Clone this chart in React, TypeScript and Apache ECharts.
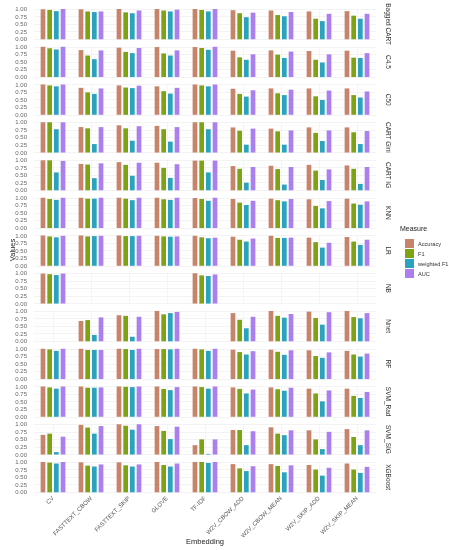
import React, { useEffect, useRef } from "react";
import * as echarts from "echarts";

const embeddings = ["CV", "FASTTEXT_CBOW", "FASTTEXT_SKIP", "GLOVE", "TF-IDF", "W2V_CBOW_ADD", "W2V_CBOW_MEAN", "W2V_SKIP_ADD", "W2V_SKIP_MEAN"];
const classifiers = ["Bagged CART", "C4.5", "C50", "CART Gini", "CART IG", "KNN", "LR", "NB", "Nnet", "RF", "SVM_Rad", "SVM_SIG", "XGBoost"];
const measures = ["Accuracy", "F1", "weighted F1", "AUC"];
const measureColors = ["#C8836B", "#7DA314", "#2BA3BD", "#AB80EE"];

const N = null;
// rows follow `classifiers`, columns follow `embeddings`
const accuracy = [
  [0.99, 0.99, 1.0, 1.0, 1.0, 0.96, 0.95, 0.92, 0.93],
  [1.0, 0.89, 0.97, 0.99, 0.99, 0.87, 0.88, 0.86, 0.87],
  [1.0, 0.89, 0.97, 0.94, 1.0, 0.86, 0.87, 0.87, 0.87],
  [1.0, 0.84, 0.9, 0.88, 1.0, 0.83, 0.79, 0.83, 0.83],
  [0.99, 0.87, 0.93, 0.91, 0.98, 0.8, 0.81, 0.84, 0.82],
  [1.0, 1.0, 1.0, 1.0, 0.99, 0.96, 0.97, 0.95, 0.97],
  [1.0, 1.0, 1.0, 0.99, 0.99, 0.96, 0.99, 0.93, 0.95],
  [0.99, N, N, N, 1.0, N, N, N, N],
  [N, 0.67, 0.86, 1.0, N, 0.93, 1.0, 0.98, 1.0],
  [1.0, 1.0, 1.0, 0.99, 1.0, 0.97, 0.97, 0.95, 0.93],
  [1.0, 1.0, 1.0, 1.0, 1.0, 0.97, 0.97, 0.93, 0.93],
  [0.65, 0.98, 1.0, 0.94, 0.31, 0.81, 0.9, 0.8, 0.84],
  [1.0, 0.99, 0.99, 1.0, 1.0, 0.93, 0.93, 0.9, 0.95],
];
const f1 = [
  [0.97, 0.92, 0.89, 0.95, 0.97, 0.86, 0.8, 0.68, 0.78],
  [0.95, 0.71, 0.83, 0.78, 0.96, 0.65, 0.74, 0.57, 0.64],
  [0.97, 0.74, 0.9, 0.78, 0.97, 0.69, 0.71, 0.61, 0.65],
  [1.0, 0.8, 0.8, 0.77, 1.0, 0.72, 0.7, 0.65, 0.67],
  [0.99, 0.85, 0.84, 0.74, 0.98, 0.71, 0.7, 0.65, 0.71],
  [0.96, 0.97, 0.97, 0.95, 0.96, 0.84, 0.92, 0.73, 0.81],
  [0.97, 0.97, 0.98, 0.97, 0.94, 0.86, 0.92, 0.78, 0.8],
  [0.97, N, N, N, 0.93, N, N, N, N],
  [N, 0.7, 0.84, 0.89, N, 0.71, 0.84, 0.77, 0.8],
  [0.98, 0.96, 0.99, 0.99, 0.98, 0.89, 0.9, 0.76, 0.81],
  [0.97, 0.96, 0.99, 0.92, 0.98, 0.92, 0.91, 0.77, 0.69],
  [0.69, 0.89, 0.95, 0.78, 0.5, 0.81, 0.69, 0.5, 0.58],
  [0.98, 0.88, 0.89, 0.9, 1.0, 0.79, 0.87, 0.75, 0.75],
];
const weightedF1 = [
  [0.93, 0.9, 0.86, 0.92, 0.92, 0.73, 0.76, 0.6, 0.68],
  [0.91, 0.59, 0.79, 0.71, 0.9, 0.57, 0.63, 0.48, 0.63],
  [0.94, 0.69, 0.88, 0.7, 0.94, 0.6, 0.65, 0.49, 0.57],
  [0.77, 0.28, 0.39, 0.36, 0.77, 0.26, 0.26, 0.38, 0.28],
  [0.59, 0.4, 0.48, 0.41, 0.59, 0.25, 0.19, 0.34, 0.21],
  [0.93, 0.97, 0.92, 0.93, 0.9, 0.76, 0.88, 0.65, 0.77],
  [0.94, 0.98, 0.98, 0.96, 0.91, 0.8, 0.92, 0.6, 0.69],
  [0.94, N, N, N, 0.91, N, N, N, N],
  [N, 0.21, 0.15, 0.93, N, 0.43, 0.78, 0.55, 0.76],
  [0.93, 0.96, 0.96, 0.98, 0.93, 0.81, 0.8, 0.7, 0.74],
  [0.93, 0.96, 0.98, 0.88, 0.93, 0.77, 0.86, 0.51, 0.62],
  [0.08, 0.69, 0.82, 0.51, 0.02, 0.31, 0.64, 0.18, 0.31],
  [0.95, 0.85, 0.85, 0.85, 0.97, 0.7, 0.66, 0.55, 0.64],
];
const auc = [
  [1.0, 0.92, 0.95, 0.98, 1.0, 0.88, 0.9, 0.84, 0.84],
  [1.0, 0.88, 0.96, 0.88, 1.0, 0.75, 0.84, 0.75, 0.79],
  [1.0, 0.87, 0.96, 0.89, 1.0, 0.81, 0.83, 0.8, 0.77],
  [1.0, 0.84, 0.87, 0.84, 1.0, 0.79, 0.73, 0.73, 0.71],
  [0.97, 0.89, 0.91, 0.86, 0.98, 0.77, 0.77, 0.69, 0.77],
  [1.0, 1.0, 1.0, 1.0, 1.0, 0.9, 0.96, 0.89, 0.88],
  [0.99, 0.99, 0.99, 0.97, 0.93, 0.9, 0.93, 0.76, 0.86],
  [0.99, N, N, N, 0.96, N, N, N, N],
  [N, 0.79, 0.81, 0.97, N, 0.81, 0.9, 0.96, 0.93],
  [1.0, 0.96, 1.0, 1.0, 1.0, 0.92, 0.95, 0.88, 0.84],
  [1.0, 0.97, 1.0, 0.98, 1.0, 0.9, 0.96, 0.87, 0.82],
  [0.59, 0.94, 1.0, 0.92, 0.5, 0.77, 0.8, 0.75, 0.8],
  [1.0, 0.92, 0.92, 0.95, 1.0, 0.86, 0.89, 0.81, 0.84],
];
const yMin = 0;
const yMax = 1;
const yStep = 0.25;

const measureData = [accuracy, f1, weightedF1, auc];

export default function App() {
  const ref = useRef<HTMLDivElement>(null);
  useEffect(() => {
    if (!ref.current) return;
    const chart = echarts.init(ref.current, null, { renderer: "svg" });
    const font = "Liberation Sans, Arial, sans-serif";
    const grids: any[] = [];
    const xAxes: any[] = [];
    const yAxes: any[] = [];
    const series: any[] = [];
    const rowTop = 9;
    const rowStep = 37.75;
    const rowH = 30.3;
    classifiers.forEach((cls, i) => {
      grids.push({ left: 34, width: 342, top: rowTop + i * rowStep, height: rowH });
      const last = i === classifiers.length - 1;
      xAxes.push({
        type: "category",
        gridIndex: i,
        data: embeddings,
        axisLine: { show: false },
        axisTick: { show: false },
        axisLabel: {
          show: last,
          rotate: 45,
          fontSize: 6,
          color: "#555",
          margin: 5,
          fontFamily: font,
        },
        splitLine: { show: true, alignWithLabel: true, lineStyle: { color: "#ebebeb", width: 0.5 } },
      });
      yAxes.push({
        type: "value",
        gridIndex: i,
        min: yMin,
        max: yMax,
        interval: yStep,
        axisLine: { show: false },
        axisTick: { show: false },
        axisLabel: {
          fontSize: 6,
          color: "#666",
          margin: 7,
          fontFamily: font,
          formatter: (v: number) => v.toFixed(2),
        },
        splitLine: { lineStyle: { color: "#e6e6e6", width: 0.5 } },
        minorTick: { show: false, splitNumber: 2 },
        minorSplitLine: { show: true, lineStyle: { color: "#f2f2f2", width: 0.4 } },
      });
      yAxes.push({
        type: "value",
        gridIndex: i,
        position: "right",
        min: yMin,
        max: yMax,
        name: cls,
        nameLocation: "middle",
        nameRotate: -90,
        nameGap: 9,
        nameTextStyle: { fontSize: 6.5, color: "#333", fontFamily: font },
        axisLine: { show: false },
        axisTick: { show: false },
        axisLabel: { show: false },
        splitLine: { show: false },
      });
      measures.forEach((m, k) => {
        series.push({
          type: "bar",
          name: m,
          xAxisIndex: i,
          yAxisIndex: i * 2,
          data: measureData[k][i],
          barWidth: 4.7,
          barGap: "42%",
          itemStyle: { color: measureColors[k] },
        });
      });
    });

    chart.setOption({
      animation: false,
      textStyle: { fontFamily: font },
      grid: grids,
      xAxis: xAxes,
      yAxis: yAxes,
      series,
      legend: {
        data: measures,
        orient: "vertical",
        left: 400,
        top: 234,
        itemWidth: 9,
        itemHeight: 9,
        itemGap: 1,
        icon: "rect",
        textStyle: { fontSize: 5.6, color: "#333", fontFamily: font, padding: [0, 0, 0, -1] },
      },
      graphic: [
        {
          type: "text",
          x: 400,
          y: 225,
          style: { text: "Measure", fontSize: 7, fill: "#222", fontFamily: font },
        },
        {
          type: "text",
          x: 205,
          y: 541,
          style: { text: "Embedding", fontSize: 7.5, fill: "#222", fontFamily: font, align: "center", verticalAlign: "middle" },
        },
        {
          type: "text",
          x: 12,
          y: 250,
          rotation: Math.PI / 2,
          style: { text: "Values", fontSize: 7.5, fill: "#222", fontFamily: font, align: "center", verticalAlign: "middle" },
        },
      ],
    });
    return () => chart.dispose();
  }, []);
  return <div ref={ref} style={{ position: "fixed", left: 0, top: 0, width: 449, height: 550 }} />;
}
